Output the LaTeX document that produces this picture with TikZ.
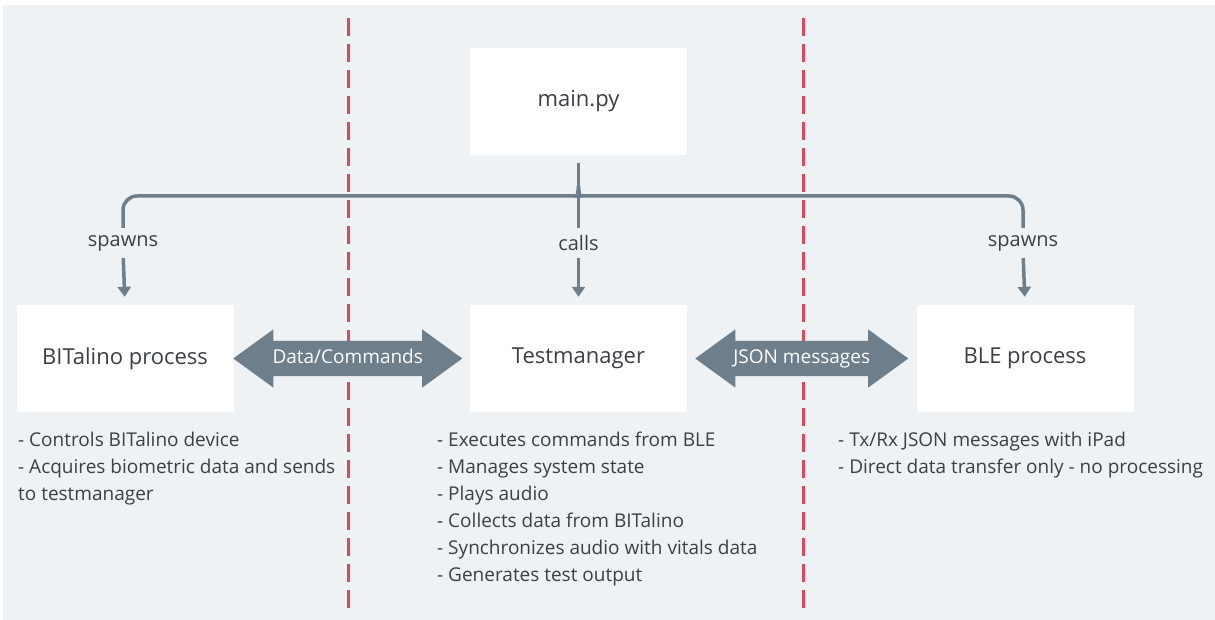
\documentclass[tikz,border=0pt]{standalone}
\usepackage{fontspec}
\setmainfont{Open Sans}
\usetikzlibrary{arrows.meta,shapes.arrows,calc}
\definecolor{bggray}{HTML}{EFF2F5}
\definecolor{arrowgray}{HTML}{6F7E8B}
\definecolor{redline}{HTML}{D8485E}
\definecolor{textdark}{HTML}{3A4046}
\tikzset{
	box/.style={fill=white, minimum width=217pt, minimum height=107pt, text=textdark, font=\fontsize{22}{26}\selectfont},
	link/.style={draw=arrowgray, line width=3.5pt},
	arr/.style={link, -{Triangle[width=13pt,length=10pt]}, shorten <=7pt, shorten >=8pt},
	lbl/.style={inner sep=0pt, text=textdark, font=\fontsize{20}{22}\selectfont},
	notes/.style={inner sep=0pt, anchor=north west, align=left, text=textdark, font=\fontsize{19}{27}\selectfont},
	dblarrow/.style={double arrow, fill=arrowgray, text=white, font=\fontsize{19}{21}\selectfont,
		text height=13pt, text depth=4pt, inner ysep=9pt, inner xsep=2pt,
		double arrow head extend=11.5pt, double arrow tip angle=72},
	border/.style={draw=redline, line width=3pt, dash pattern=on 18pt off 8pt}
}
\begin{document}
\begin{tikzpicture}[x=1pt,y=-1pt]
	\useasboundingbox (0,0) rectangle (1215,620);
	\fill[white] (0,0) rectangle (1215,620);
	\fill[bggray] (3,5) rectangle (1215,620);
	
	\draw[border] (348,18) -- (348,608);
	\draw[border] (803,18) -- (803,608);
	
	\node[box] (main) at (578.5,101.5) {main.py};
	\node[box] (bit) at (125,358.5) {BITalino process};
	\node[box] (tm) at (578.5,358.5) {Testmanager};
	\node[box] (ble) at (1025,358.5) {BLE process};
	
	\node[lbl] (spl) at (123,243) {spawns};
	\node[lbl] (calls) at (578.5,243) {calls};
	\node[lbl] (spr) at (1023,243) {spawns};
	
	% brace from main.py
	\coordinate (cusp) at (578.5,186);
	\draw[link] ([yshift=-8pt]main.south) -- (cusp);
	\draw[link, rounded corners=14pt] (cusp) .. controls +(0,8) and +(6,0) .. ++(-10,10) -| ([yshift=7pt]spl.north);
	\draw[link, rounded corners=14pt] (cusp) .. controls +(0,8) and +(-6,0) .. ++(10,10) -| ([yshift=7pt]spr.north);
	\draw[link] (cusp) -- ([yshift=7pt]calls.north);
	
	\draw[arr] (spl.south) -- (bit.north);
	\draw[arr] (calls.south) -- (tm.north);
	\draw[arr] (spr.south) -- (ble.north);
	
	\node[dblarrow, minimum height=229pt] (dc) at ($(bit.east)!0.5!(tm.west)+(-4,0)$) {Data/Commands};
	\node[dblarrow, minimum height=213pt] (json) at ($(tm.east)!0.5!(ble.west)$) {JSON messages};
	
	\node[notes] (bitnotes) at (18,432) {- Controls BITalino device\\- Acquires biometric data and sends\\to testmanager};
	\node[notes] (tmnotes) at (437,432) {- Executes commands from BLE\\- Manages system state\\- Plays audio\\- Collects data from BITalino\\- Synchronizes audio with vitals data\\- Generates test output};
	\node[notes] (blenotes) at (838,432) {- Tx/Rx JSON messages with iPad\\- Direct data transfer only - no processing};
\end{tikzpicture}
\end{document}
